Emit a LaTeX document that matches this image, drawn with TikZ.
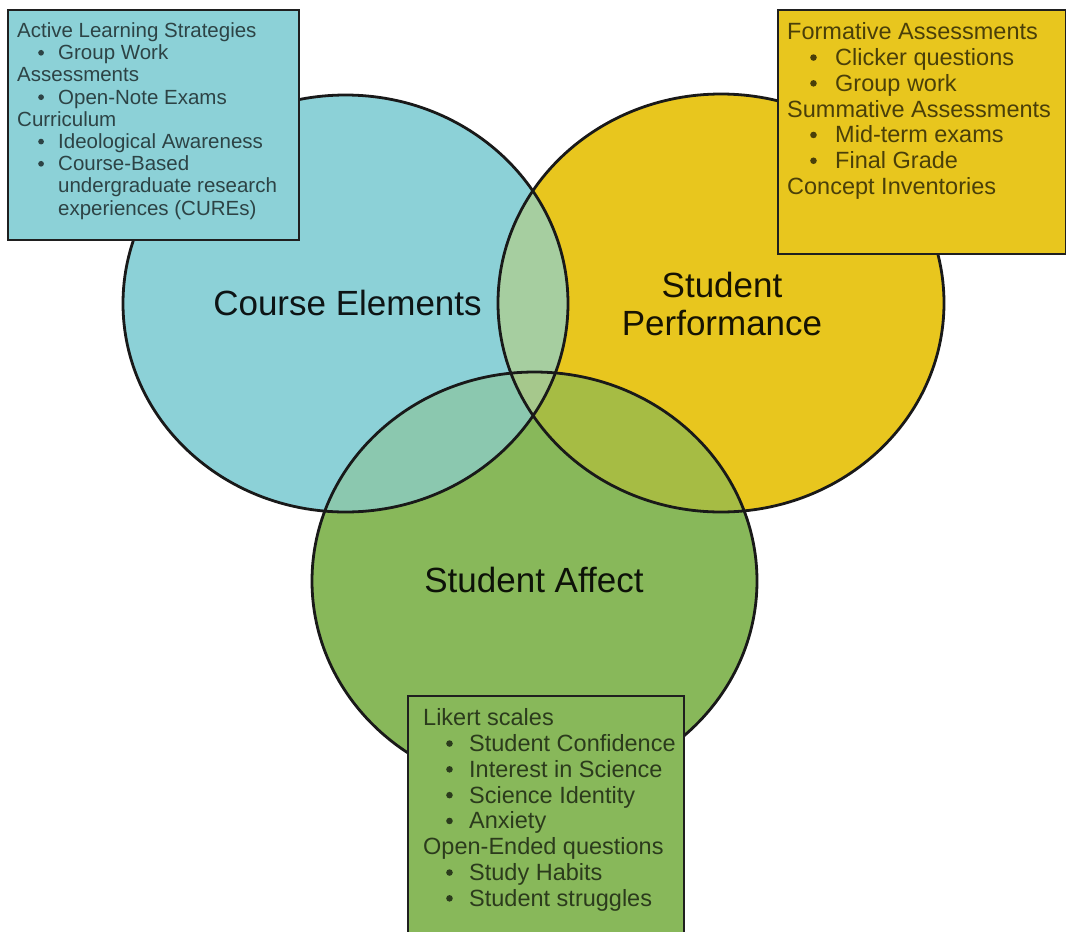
\documentclass[tikz,border=0pt]{standalone}
\usepackage{fontspec}
\setmainfont{Liberation Sans}

% region colours of the three-set diagram
\definecolor{ceBlue}{RGB}{140,209,215}
\definecolor{spYellow}{RGB}{232,198,30}
\definecolor{saGreen}{RGB}{136,184,90}
\definecolor{bySage}{RGB}{166,206,160}
\definecolor{bgTeal}{RGB}{139,200,175}
\definecolor{ygOlive}{RGB}{166,188,68}
\definecolor{allMix}{RGB}{166,200,140}

% indented list bullet (a small filled dot): indent, bullet box width
\newcommand{\lstitem}[2]{\hspace*{#1}\makebox[#2][l]{\tikz[baseline=0pt]\fill[black, fill opacity=0.68] (0.14em,0.34em) circle[radius=0.14em];}}

\begin{document}
\begin{tikzpicture}[x=1pt,y=-1pt,
  outline/.style={draw=black!90, line width=2.8pt},
  listbox/.style={draw=black!88, line width=2pt, inner sep=0pt, anchor=north west},
  setlabel/.style={inner sep=0pt, align=center, text opacity=0.9,
    font=\fontsize{35}{38}\selectfont},
  listtext/.style={inner sep=0pt, align=left, anchor=north west, text opacity=0.68}
]
\useasboundingbox (0,0) rectangle (1066,932);
\clip (0,0) rectangle (1066,932);

\def\blueE{(345.5,303.5) ellipse [x radius=222.5pt, y radius=208.5pt]}
\def\yellowE{(721,303) ellipse [x radius=223pt, y radius=209pt]}
\def\greenE{(534.5,581) ellipse [x radius=222.5pt, y radius=209pt]}

% set fills
\fill[ceBlue] \blueE;
\fill[spYellow] \yellowE;
\fill[saGreen] \greenE;

% pairwise overlaps
\begin{scope}
  \clip \blueE; \fill[bySage] \yellowE;
\end{scope}
\begin{scope}
  \clip \blueE; \fill[bgTeal] \greenE;
\end{scope}
\begin{scope}
  \clip \yellowE; \fill[ygOlive] \greenE;
\end{scope}
% triple overlap
\begin{scope}
  \clip \blueE; \clip \yellowE; \fill[allMix] \greenE;
\end{scope}

% outlines
\draw[outline] \blueE;
\draw[outline] \yellowE;
\draw[outline] \greenE;

% set names
\node[setlabel] (ce) at (347.5,303) {Course Elements};
\node[setlabel] (sp) at (722,304) {Student\\Performance};
\node[setlabel] (sa) at (534,580) {Student Affect};

% list boxes
\node[listbox, fill=ceBlue, minimum width=291pt, minimum height=230pt] (boxce) at (7,9) {};
\node[listbox, fill=spYellow, minimum width=288pt, minimum height=244pt] (boxsp) at (777,9) {};
\node[listbox, fill=saGreen, minimum width=276pt, minimum height=250pt] (boxsa) at (407,695) {};

\node[listtext, font=\fontsize{20.5}{22.2}\selectfont] (listce) at (17,22.5) {%
Active Learning Strategies\\
\lstitem{21pt}{20pt}Group Work\\
Assessments\\
\lstitem{21pt}{20pt}Open-Note Exams\\
Curriculum\\
\lstitem{21pt}{20pt}Ideological Awareness\\
\lstitem{21pt}{20pt}Course-Based\\
\hspace*{41pt}undergraduate research\\
\hspace*{41pt}experiences (CUREs)};

\node[listtext, font=\fontsize{23.5}{25.8}\selectfont] (listsp) at (787,22.5) {%
Formative Assessments\\
\lstitem{23pt}{25pt}Clicker questions\\
\lstitem{23pt}{25pt}Group work\\
Summative Assessments\\
\lstitem{23pt}{25pt}Mid-term exams\\
\lstitem{23pt}{25pt}Final Grade\\
Concept Inventories};

\node[listtext, font=\fontsize{23.5}{25.8}\selectfont] (listsa) at (423,708.5) {%
Likert scales\\
\lstitem{23pt}{23pt}Student Confidence\\
\lstitem{23pt}{23pt}Interest in Science\\
\lstitem{23pt}{23pt}Science Identity\\
\lstitem{23pt}{23pt}Anxiety\\
Open-Ended questions\\
\lstitem{23pt}{23pt}Study Habits\\
\lstitem{23pt}{23pt}Student struggles};
\end{tikzpicture}
\end{document}
